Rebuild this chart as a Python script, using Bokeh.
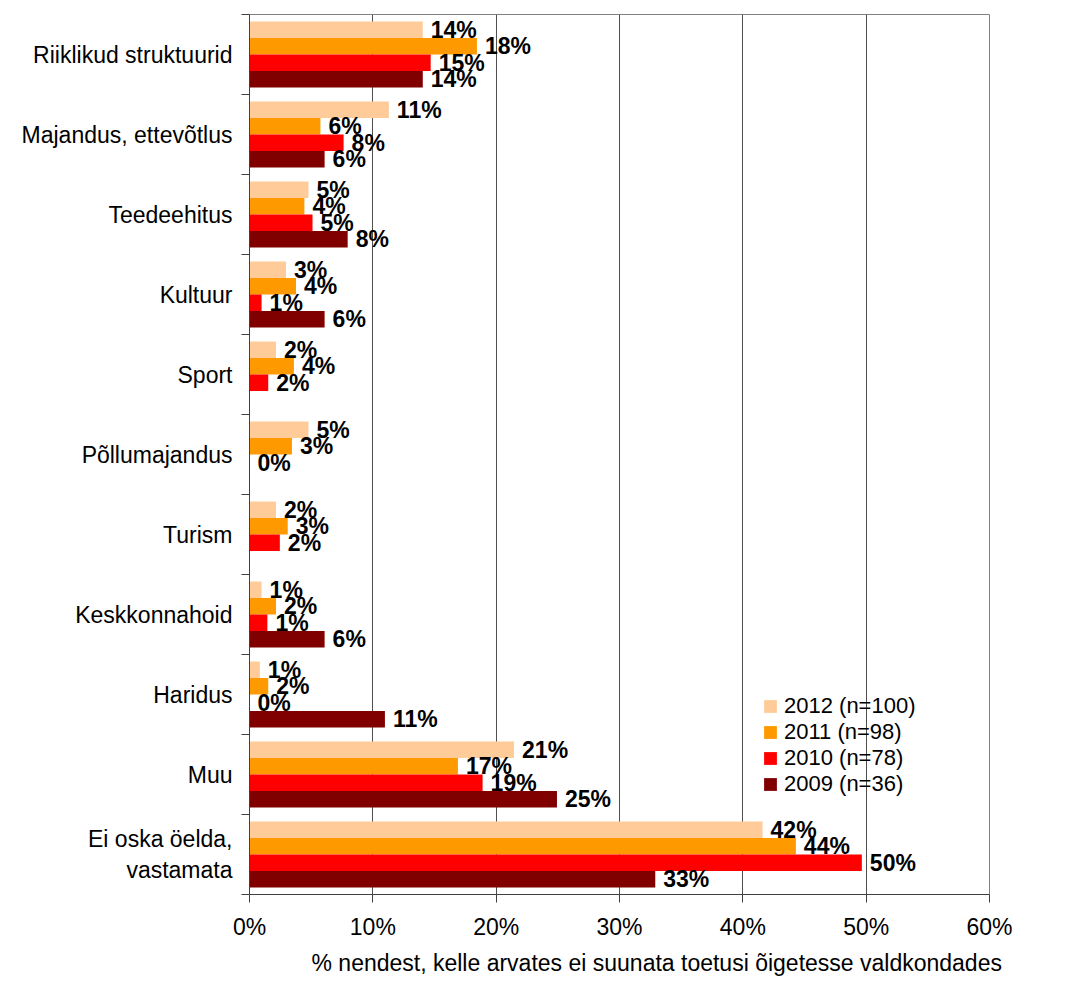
from bokeh.plotting import figure
from bokeh.models import Range1d, FixedTicker, PrintfTickFormatter, Title, ColumnDataSource
from bokeh.core.properties import value
from bokeh.embed import file_html
from bokeh.resources import INLINE
import math

FONT = "Liberation Sans"

categories = ["Riiklikud struktuurid", "Majandus, ettevõtlus", "Teedeehitus", "Kultuur",
              "Sport", "Põllumajandus", "Turism", "Keskkonnahoid", "Haridus", "Muu",
              "Ei oska öelda,\nvastamata"]
series = ["2012 (n=100)", "2011 (n=98)", "2010 (n=78)", "2009 (n=36)"]
colors = ["#FFCC99", "#FF9900", "#FF0000", "#800000"]

v2012 = [14.05, 11.3, 4.78, 2.96, 2.15, 4.78, 2.15, 0.98, 0.84, 21.45, 41.6]
v2011 = [18.44, 5.75, 4.45, 3.77, 3.60, 3.44, 3.10, 2.15, 1.52, 16.9, 44.3]
v2010 = [14.69, 7.63, 5.11, 0.98, 1.52, 0.0, 2.46, 1.45, 0.0, 18.9, 49.65]
v2009 = [14.05, 6.09, 7.96, 6.09, None, None, None, 6.09, 10.98, 24.93, 32.9]
values = [v2012, v2011, v2010, v2009]

x_ticks = [0, 10, 20, 30, 40, 50, 60]
x_title = "% nendest, kelle arvates ei suunata toetusi õigetesse valdkondades"

n = len(categories)
bar_h = 0.206
offsets = [1.5 * bar_h, 0.5 * bar_h, -0.5 * bar_h, -1.5 * bar_h]
centers = [n - i - 0.5 for i in range(n)]

p = figure(width=1076, height=981, output_backend="svg", toolbar_location=None,
           x_range=Range1d(0, 60), y_range=Range1d(0, n),
           min_border_left=249, min_border_right=87, min_border_top=14, min_border_bottom=87)
p.background_fill_color = "white"
p.border_fill_color = "white"
p.outline_line_color = "#808080"
p.outline_line_width = 1

label_sources = []
for s, (name, col, vals) in enumerate(zip(series, colors, values)):
    ys = [c + offsets[s] for c in centers]
    rights = [float("nan") if v is None else v for v in vals]
    src = ColumnDataSource(dict(y=ys, right=rights))
    p.hbar(y="y", right="right", left=0, height=bar_h, source=src,
           fill_color=col, line_color=None, legend_label=name)
    lx, ly, lt = [], [], []
    for v, y in zip(vals, ys):
        if v is None:
            continue
        lx.append(v)
        ly.append(y)
        lt.append("%d%%" % int(math.floor(v + 0.5)))
    label_sources.append(ColumnDataSource(dict(x=lx, y=ly, t=lt)))

for src in label_sources:
    p.text(x="x", y="y", text="t", source=src, x_offset=8, text_baseline="middle",
           text_align="left", text_font=value(FONT), text_font_style="bold",
           text_font_size="23px", text_color="black")

# x axis
p.xaxis.ticker = FixedTicker(ticks=x_ticks)
p.xaxis.formatter = PrintfTickFormatter(format="%d%%")
p.xaxis.major_tick_out = 8
p.xaxis.major_tick_in = 0
p.xaxis.minor_tick_line_color = None
p.xaxis.major_label_standoff = 11
p.xaxis.major_label_text_font = FONT
p.xaxis.major_label_text_font_size = "23px"
p.xaxis.major_label_text_color = "black"
p.xaxis.axis_line_color = "#404040"
p.xaxis.major_tick_line_color = "#404040"

# y axis: labels at centres, ticks at boundaries
p.yaxis.ticker = FixedTicker(ticks=centers, minor_ticks=[float(k) for k in range(n + 1)])
p.yaxis.major_label_overrides = {c: categories[i] for i, c in enumerate(centers)}
p.yaxis.major_tick_line_color = None
p.yaxis.major_tick_out = 0
p.yaxis.major_tick_in = 0
p.yaxis.minor_tick_out = 8
p.yaxis.minor_tick_in = 0
p.yaxis.minor_tick_line_color = "#404040"
p.yaxis.axis_line_color = "#404040"
p.yaxis.major_label_standoff = 9
p.yaxis.major_label_text_font = FONT
p.yaxis.major_label_text_font_size = "23px"
p.yaxis.major_label_text_color = "black"

p.xgrid.ticker = FixedTicker(ticks=x_ticks)
p.xgrid.grid_line_color = "#505050"
p.ygrid.grid_line_color = None

p.add_layout(Title(text=x_title, align="left", offset=62, standoff=10,
                   text_font=FONT, text_font_size="23px", text_font_style="normal",
                   text_color="black"), "below")

lg = p.legend[0]
lg.location = (513, 97)
lg.padding = 0
lg.margin = 0
lg.spacing = 0
lg.glyph_width = 16
lg.glyph_height = 16
lg.label_standoff = 6
lg.label_text_font = FONT
lg.label_text_font_size = "22px"
lg.label_text_color = "black"
lg.border_line_color = None
lg.background_fill_alpha = 0

open("out.html", "w").write(file_html(p, INLINE))
